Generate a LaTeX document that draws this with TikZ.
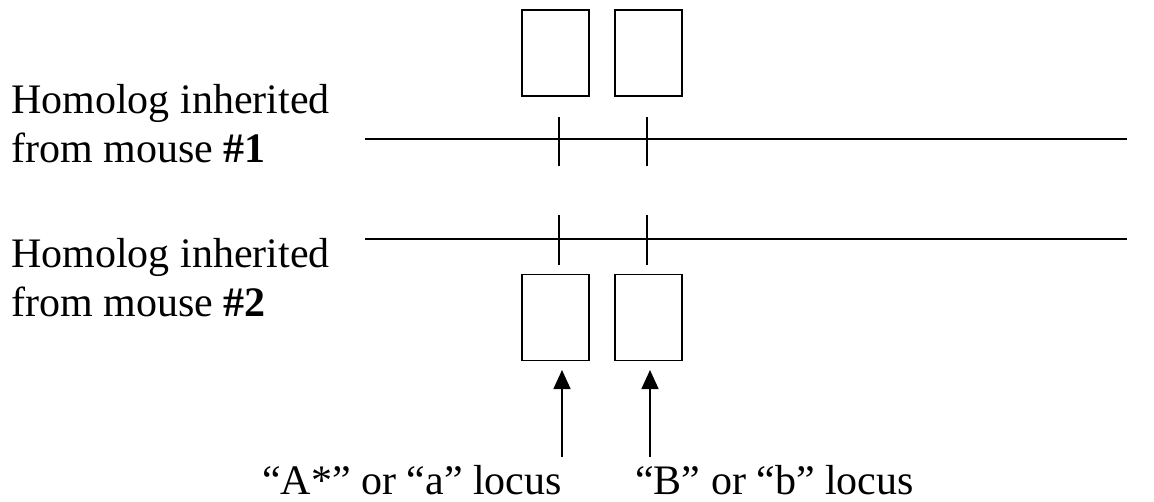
\documentclass[tikz,border=0pt]{standalone}
\usepackage{fontspec}
\setmainfont{Liberation Serif}
\usetikzlibrary{arrows.meta}
\tikzset{
  locusbox/.style={draw,line width=1.6pt,minimum width=67pt,minimum height=86pt,inner sep=0pt},
  homolog/.style={line width=1.6pt},
  lab/.style={font=\fontsize{42}{49}\selectfont,inner sep=0pt,align=left},
  pointer/.style={line width=1.6pt,-{Triangle[length=19pt,width=17pt]}}
}
\begin{document}
\begin{tikzpicture}[x=1pt,y=-1pt]
\useasboundingbox (0,0) rectangle (1154,501);
% boxes
\node[locusbox] (ta) at (555.5,53) {};
\node[locusbox] (tb) at (648.5,53) {};
\node[locusbox] (ba) at (555.5,317.5) {};
\node[locusbox] (bb) at (648.5,317.5) {};
% homologs
\coordinate (h1w) at (365,139);
\coordinate (h1e) at (1127,139);
\coordinate (h2w) at (365,239);
\coordinate (h2e) at (1127,239);
\draw[homolog] (h1w) -- (h1e);
\draw[homolog] (h2w) -- (h2e);
\foreach \x in {559,647}{
  \draw[homolog] (\x,117) -- (\x,166);
  \draw[homolog] (\x,215) -- (\x,265);
}
\node[lab,anchor=base west] (m1) at (11,162) {Homolog inherited\\from mouse \textbf{\#1}};
\node[lab,anchor=base west] (m2) at (11,316) {Homolog inherited\\from mouse \textbf{\#2}};
% loci
\node[lab,anchor=base west] (la) at (262,494) {“A*” or “a” locus};
\node[lab,anchor=base west] (lb) at (635,494) {“B” or “b” locus};
\coordinate (pa) at (562,457);
\coordinate (pb) at (650,457);
\draw[pointer] (pa) -- (562,370);
\draw[pointer] (pb) -- (650,370);
\end{tikzpicture}
\end{document}
